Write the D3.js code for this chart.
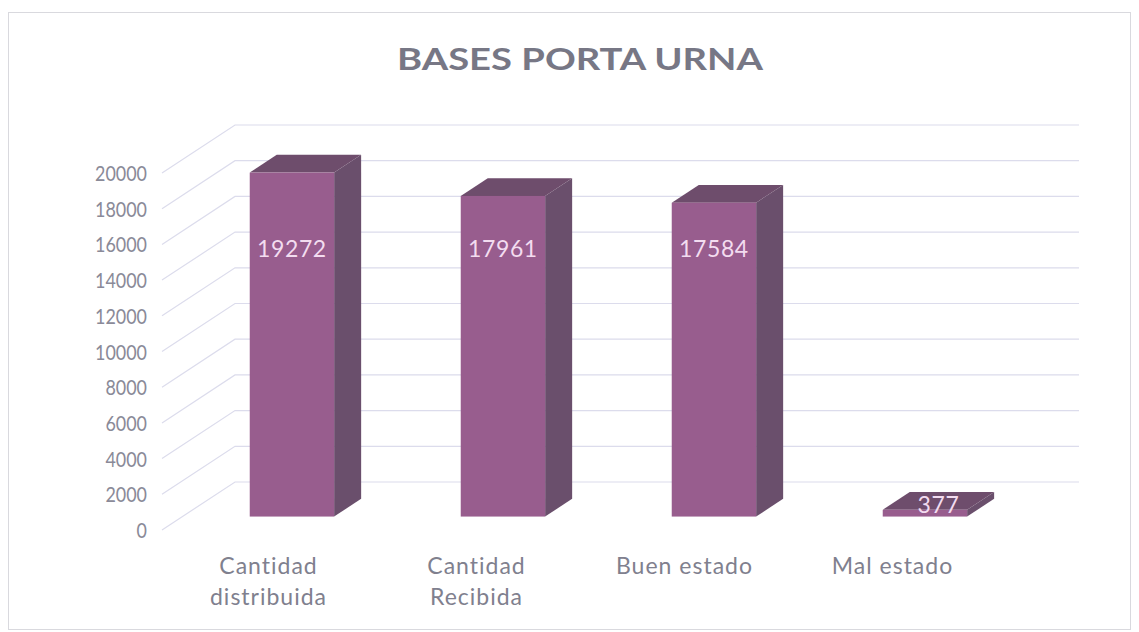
<!DOCTYPE html>
<html>
<head>
<meta charset="utf-8">
<script src="https://cdn.jsdelivr.net/npm/d3@7"></script>
<style>
  html, body { margin: 0; padding: 0; background: #ffffff; }
  svg { display: block; }
</style>
</head>
<body>
<svg id="chart" width="1139" height="632"></svg>
<script>
// ---- data ----
const title = "BASES PORTA URNA";
const categories = [["Cantidad", "distribuida"], ["Cantidad", "Recibida"], ["Buen estado"], ["Mal estado"]];
const categoryKeys = ["Cantidad distribuida", "Cantidad Recibida", "Buen estado", "Mal estado"];
const values = [19272, 17961, 17584, 377];
const yTicks = [0, 2000, 4000, 6000, 8000, 10000, 12000, 14000, 16000, 18000, 20000];

// ---- layout ----
const svg = d3.select("#chart");
const FONT = "Lato, 'Open Sans', sans-serif";

// oblique 3D projection: full depth vector of the floor / side wall
const DX = 73, DY = -48;
const barD0 = 0.28, barDepth = 0.37;   // bar position within the depth

const y = d3.scaleLinear().domain([0, 20000]).range([530, 173]);
const x = d3.scaleBand().domain(categoryKeys).range([166, 1010]).paddingInner(0.6).paddingOuter(0.3);

const frontLeft = 162, backRight = 1079;

// chart border
svg.append("rect").attr("x", 8.5).attr("y", 12.5).attr("width", 1122).attr("height", 617)
  .attr("fill", "none").attr("stroke", "#d9d9de").attr("stroke-width", 1);

// title
svg.append("text").text(title)
  .attr("x", 580).attr("y", 70).attr("text-anchor", "middle")
  .attr("font-family", FONT).attr("font-weight", "bold").attr("font-size", 31)
  .attr("textLength", 366).attr("lengthAdjust", "spacingAndGlyphs")
  .attr("fill", "#777785");

// gridlines: side wall slant + back wall horizontal
const grid = svg.append("g").attr("stroke", "#dcdcec").attr("stroke-width", 1.2).attr("fill", "none");
yTicks.forEach(t => {
  const yf = y(t);
  grid.append("path").attr("d", `M${frontLeft},${yf}L${frontLeft + DX},${yf + DY}L${backRight},${yf + DY}`);
});

// y axis labels
svg.append("g").selectAll("text").data(yTicks).join("text")
  .attr("x", 147).attr("y", d => y(d) + 8).attr("text-anchor", "end")
  .attr("font-family", FONT).attr("font-size", 22).attr("fill", "#8a8a98")
  .attr("textLength", d => String(d).length * 10.4).attr("lengthAdjust", "spacingAndGlyphs")
  .text(d => d);

// bars
const bw = x.bandwidth();
const bars = svg.append("g").selectAll("g").data(values).join("g");
bars.each(function(v, i) {
  const g = d3.select(this);
  const x0 = x(categoryKeys[i]) + barD0 * DX;
  const x1 = x0 + bw;
  const yb = y(0) + barD0 * DY;
  const yt = y(v) + barD0 * DY;
  const ddx = barDepth * DX, ddy = barDepth * DY;
  // side
  g.append("path").attr("d", `M${x1},${yt}L${x1 + ddx},${yt + ddy}L${x1 + ddx},${yb + ddy}L${x1},${yb}Z`)
    .attr("fill", "#6a4f6c");
  // top
  g.append("path").attr("d", `M${x0},${yt}L${x1},${yt}L${x1 + ddx},${yt + ddy}L${x0 + ddx},${yt + ddy}Z`)
    .attr("fill", "#6e4d6c");
  // front
  g.append("rect").attr("x", x0).attr("y", yt).attr("width", bw).attr("height", yb - yt)
    .attr("fill", "#985d8e");
  // value label
  const ly = v > 15000 ? y(15000) + barD0 * DY + 8 : yt + 3;
  const lx = v > 15000 ? x0 + bw / 2 : x0 + ddx / 2 + bw / 2;
  g.append("text").text(v)
    .attr("x", lx).attr("y", ly).attr("text-anchor", "middle")
    .attr("font-family", FONT).attr("font-size", 23).attr("letter-spacing", 0.6)
    .attr("fill", "#f3dcf0");
});

// category labels
const labels = svg.append("g").selectAll("text").data(categories).join("text")
  .attr("text-anchor", "middle")
  .attr("font-family", FONT).attr("font-size", 23).attr("letter-spacing", 1)
  .attr("fill", "#80808e");
labels.each(function(lines, i) {
  const cx = x(categoryKeys[i]) + bw / 2 - 3 - i * 3;
  d3.select(this).selectAll("tspan").data(lines).join("tspan")
    .attr("x", cx).attr("y", (d, j) => 574 + j * 31).text(d => d);
});
</script>
</body>
</html>
